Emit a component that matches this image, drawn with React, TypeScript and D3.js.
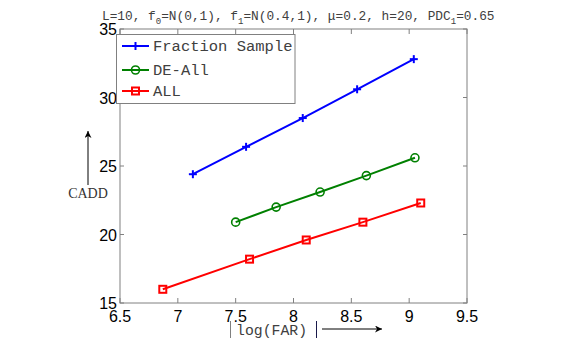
import React from 'react';
import * as d3 from 'd3';

// values
const fracX = [7.13, 7.59, 8.08, 8.55, 9.04];
const fracY = [24.4, 26.4, 28.5, 30.6, 32.8];
const deX = [7.5, 7.85, 8.23, 8.63, 9.05];
const deY = [20.9, 22.0, 23.1, 24.3, 25.6];
const allX = [6.87, 7.62, 8.11, 8.6, 9.1];
const allY = [16.0, 18.2, 19.6, 20.9, 22.3];
const xTicks = [6.5, 7, 7.5, 8, 8.5, 9, 9.5];
const yTicks = [15, 20, 25, 30, 35];
const seriesNames = ['Fraction Sample', 'DE-All', 'ALL'];

const W = 572;
const H = 354;
const box = { left: 120, right: 467, top: 29, bottom: 303 };

const Marker = ({ kind, x, y, color }: { kind: string; x: number; y: number; color: string }) => {
  if (kind === 'plus') {
    return (
      <g stroke={color} strokeWidth={2}>
        <line x1={x - 4} x2={x + 4} y1={y} y2={y} />
        <line x1={x} x2={x} y1={y - 4} y2={y + 4} />
      </g>
    );
  }
  if (kind === 'circle') {
    return <circle cx={x} cy={y} r={4} fill="none" stroke={color} strokeWidth={1.6} />;
  }
  return <rect x={x - 3.5} y={y - 3.5} width={7} height={7} fill="none" stroke={color} strokeWidth={2} />;
};

const App = () => {
  const x = d3.scaleLinear().domain([6.5, 9.5]).range([box.left, box.right]);
  const y = d3.scaleLinear().domain([15, 35]).range([box.bottom, box.top]);
  const line = d3.line<[number, number]>().x(d => x(d[0])).y(d => y(d[1]));

  const series = [
    { name: seriesNames[0], xs: fracX, ys: fracY, color: '#0000ff', kind: 'plus' },
    { name: seriesNames[1], xs: deX, ys: deY, color: '#008000', kind: 'circle' },
    { name: seriesNames[2], xs: allX, ys: allY, color: '#ff0000', kind: 'square' },
  ];

  const axisColor = '#808080';
  const mono = '"Liberation Mono", "DejaVu Sans Mono", monospace';
  const sans = '"Liberation Sans", Arial, sans-serif';
  const textGray = '#404040';

  return (
    <svg width={W} height={H} style={{ position: 'absolute', left: 0, top: 0 }}>
      <defs>
        <marker id="arrow" viewBox="0 0 10 10" refX="10" refY="5" markerWidth="9" markerHeight="7" orient="auto">
          <path d="M0,0 L10,5 L0,10 L3,5 z" fill="#000" />
        </marker>
      </defs>
      <rect width={W} height={H} fill="#fff" />

      {/* frame */}
      <rect x={box.left} y={box.top} width={box.right - box.left} height={box.bottom - box.top}
        fill="none" stroke={axisColor} strokeWidth={1} />

      {/* ticks */}
      {xTicks.map(t => (
        <g key={'x' + t} stroke={axisColor}>
          <line x1={x(t)} x2={x(t)} y1={box.bottom} y2={box.bottom - 5} />
          <line x1={x(t)} x2={x(t)} y1={box.top} y2={box.top + 5} />
        </g>
      ))}
      {yTicks.map(t => (
        <g key={'y' + t} stroke={axisColor}>
          <line x1={box.left} x2={box.left + 4} y1={y(t)} y2={y(t)} />
          <line x1={box.right} x2={box.right - 4} y1={y(t)} y2={y(t)} />
        </g>
      ))}
      {xTicks.map(t => (
        <text key={'xl' + t} x={x(t)} y={322} textAnchor="middle" fontFamily={sans} fontSize={16} fill="#000">
          {t}
        </text>
      ))}
      {yTicks.map(t => (
        <text key={'yl' + t} x={117} y={y(t) + 6} textAnchor="end" fontFamily={sans} fontSize={16} fill="#000">
          {t}
        </text>
      ))}

      {/* series */}
      {series.map(s => {
        const pts = s.xs.map((v, i) => [v, s.ys[i]] as [number, number]);
        return (
          <g key={s.name}>
            <path d={line(pts) || ''} fill="none" stroke={s.color} strokeWidth={2} />
            {pts.map((p, i) => (
              <Marker key={i} kind={s.kind} x={x(p[0])} y={y(p[1])} color={s.color} />
            ))}
          </g>
        );
      })}

      {/* legend */}
      <rect x={116.5} y={34.5} width={178.5} height={69} fill="#fff" stroke={axisColor} strokeWidth={1} />
      {series.map((s, i) => {
        const ly = [46, 70, 91][i];
        return (
          <g key={'lg' + s.name}>
            <line x1={122} x2={149} y1={ly} y2={ly} stroke={s.color} strokeWidth={2} />
            <Marker kind={s.kind} x={135.5} y={ly} color={s.color} />
            <text x={153} y={ly + 5} fontFamily={mono} fontSize={15.5} fill={textGray}>{s.name}</text>
          </g>
        );
      })}

      {/* title */}
      <text x={102} y={20} fontFamily={mono} fontSize={12.8} fill={textGray}>
        L=10, f<tspan dy={4} fontSize={9}>0</tspan><tspan dy={-4}>=N(0,1), f</tspan>
        <tspan dy={4} fontSize={9}>1</tspan><tspan dy={-4}>=N(0.4,1), μ=0.2, h=20, PDC</tspan>
        <tspan dy={4} fontSize={9}>1</tspan><tspan dy={-4}>=0.65</tspan>
      </text>

      {/* y label with arrow */}
      <line x1={88} x2={88} y1={185} y2={131} stroke="#000" strokeWidth={1} markerEnd="url(#arrow)" />
      <text x={88} y={198} textAnchor="middle" fontFamily={'"Liberation Serif", "DejaVu Serif", serif'}
        fontSize={14} fill="#333">CADD</text>

      {/* x label with arrow */}
      <line x1={230.5} x2={230.5} y1={321} y2={338} stroke={axisColor} strokeWidth={1} />
      <text x={236} y={335} fontFamily={mono} fontSize={14.8} fill={textGray}>log(FAR)</text>
      <line x1={316.5} x2={316.5} y1={321} y2={338} stroke="#1a1a4a" strokeWidth={1} />
      <line x1={322} x2={382} y1={329} y2={329} stroke="#000" strokeWidth={1} markerEnd="url(#arrow)" />
    </svg>
  );
};

export default App;
